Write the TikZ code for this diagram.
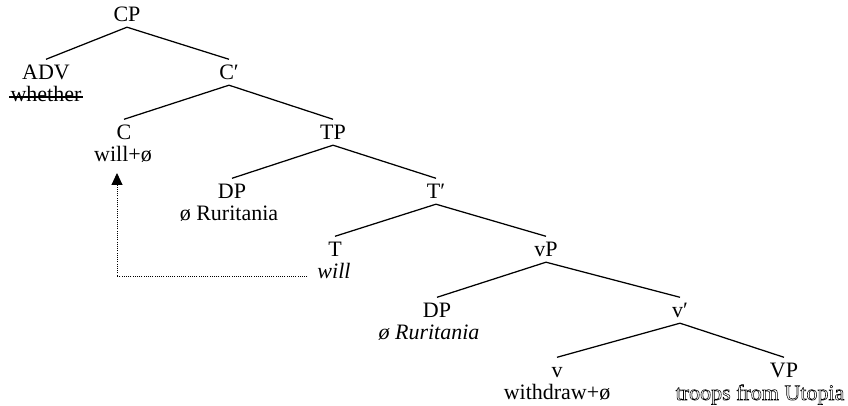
\documentclass[tikz,border=0pt]{standalone}
\usepackage{fontspec}
\setmainfont{Liberation Serif}
\usetikzlibrary{arrows.meta}
\newcommand{\outlinetext}[1]{\special{pdf:literal direct 1 Tr 0.55 w}#1\special{pdf:literal direct 0 Tr}}
\begin{document}
\begin{tikzpicture}[x=1pt,y=1pt,
  cat/.style={font=\fontsize{22}{25}\selectfont, inner sep=0pt, text height=20.5pt, text depth=5pt, anchor=base},
  word/.style={font=\fontsize{22}{25}\selectfont, inner sep=0pt, anchor=base},
  branch/.style={line width=1.25pt},
  move/.style={line width=0.9pt, dash pattern=on 0.9pt off 1.3pt, -{Triangle[length=12pt,width=11pt]}}]
\useasboundingbox (0,0) rectangle (848,406);
% categories
\node[cat] (CP)  at (127,384) {CP};
\node[cat] (ADV) at (46,326)  {ADV};
\node[cat] (C1)  at (229,326) {C′};
\node[cat] (C)   at (124,266) {C};
\node[cat] (TP)  at (333,266) {TP};
\node[cat] (DPa) at (232,207) {DP};
\node[cat] (T1)  at (436,207) {T′};
\node[cat] (T)   at (335,149) {T};
\node[cat] (vP)  at (546,149) {vP};
\node[cat] (DPb) at (437,88)  {DP};
\node[cat] (v1)  at (680,88)  {v′};
\node[cat] (v)   at (557,28)  {v};
\node[cat] (VP)  at (784,28)  {VP};
% words
\node[word] (wh)    at (46,304)  {whether};
\node[word] (willC) at (123,244) {will+ø};
\node[word] (rura)  at (229,185) {ø Ruritania};
\node[word] (willT) at (334,127) {\textit{will}};
\node[word] (rurb)  at (429,66)  {\textit{ø Ruritania}};
\node[word] (wd)    at (557,6)   {withdraw+ø};
\node[word] (tr)    at (760,6)   {\outlinetext{troops from Utopia}};
% branches
\draw[branch] (CP.south) -- (ADV.north);
\draw[branch] (CP.south) -- (C1.north);
\draw[branch] (C1.south) -- (C.north);
\draw[branch] (C1.south) -- (TP.north);
\draw[branch] (TP.south) -- (DPa.north);
\draw[branch] (TP.south) -- (T1.north);
\draw[branch] (T1.south) -- (T.north);
\draw[branch] (T1.south) -- (vP.north);
\draw[branch] (vP.south) -- (DPb.north);
\draw[branch] (vP.south) -- (v1.north);
\draw[branch] (v1.south) -- (v.north);
\draw[branch] (v1.south) -- (VP.north);
% strike-through
\draw[line width=1.25pt] ([xshift=-1pt,yshift=5pt]wh.base west) -- ([xshift=1pt,yshift=5pt]wh.base east);
% movement
\draw[move] ([xshift=-10pt]willT.mid west) -| ([xshift=-6pt,yshift=-11pt]willC.base);
\end{tikzpicture}
\end{document}
